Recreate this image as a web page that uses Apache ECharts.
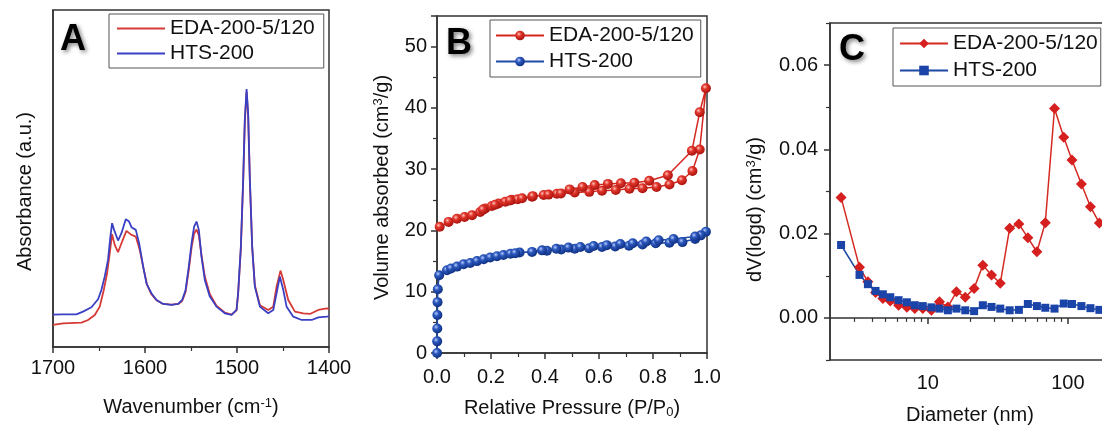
<!DOCTYPE html>
<html><head><meta charset="utf-8">
<script src="https://cdn.jsdelivr.net/npm/echarts@6/dist/echarts.min.js"></script>
<style>html,body{margin:0;padding:0;overflow:hidden;background:#fff;width:1102px;height:425px}#c{position:absolute;left:0;top:0;width:1200px;height:425px}</style>
</head><body><div id="c"></div>
<script>
// ---------- Panel A: FTIR ----------
const aWaveHTS = [1700,1690,1674.6,1667.4,1658.2,1651,1647.4,1643.8,1640.2,1637.6,1635.8,1633.6,1629.3,1625.6,1620.9,1617.3,1614.7,1610,1606.4,1602,1600.2,1598.4,1596.6,1593,1587.5,1580.3,1571.2,1563.9,1559.6,1555.9,1552.4,1549.4,1546.6,1544,1541.5,1538.6,1535,1529.5,1522.3,1513.2,1505.9,1500.5,1498.8,1495.8,1493.3,1491.5,1489.6,1487.9,1486,1483.5,1480.6,1475.1,1466.1,1460.6,1457,1453.4,1449.7,1446.1,1438.8,1429.7,1418.8,1411.6,1402.5,1400];
const aHTS = [0.097,0.098,0.098,0.106,0.119,0.143,0.171,0.211,0.261,0.331,0.371,0.351,0.319,0.341,0.383,0.376,0.359,0.351,0.311,0.241,0.216,0.191,0.180,0.161,0.141,0.129,0.126,0.129,0.141,0.171,0.241,0.311,0.361,0.376,0.351,0.271,0.201,0.151,0.121,0.101,0.096,0.111,0.161,0.301,0.501,0.681,0.773,0.701,0.501,0.301,0.181,0.121,0.101,0.111,0.161,0.211,0.171,0.121,0.091,0.081,0.081,0.089,0.091,0.092];
const aWaveEDA = [1700,1689.1,1669.1,1661.9,1654.6,1649.2,1644.8,1641.2,1638.3,1635.8,1632.9,1629.3,1625.6,1620.2,1614.7,1610,1605.7,1601.3,1597.7,1593,1587.5,1580.3,1571.2,1563.9,1559.6,1555.9,1552.4,1549.4,1546.6,1544,1541.5,1538.6,1535,1529.5,1522.3,1513.2,1505.9,1500.5,1498.8,1495.8,1493.3,1491.5,1489.6,1487.9,1486,1483.5,1480.6,1475.1,1466.1,1460.6,1457,1452.7,1449.7,1444.3,1437,1428,1420.8,1411.6,1402.5,1400];
const aEDA = [0.066,0.071,0.073,0.081,0.096,0.121,0.171,0.221,0.281,0.338,0.306,0.284,0.311,0.348,0.336,0.331,0.291,0.231,0.186,0.158,0.140,0.129,0.127,0.129,0.138,0.165,0.231,0.298,0.340,0.352,0.335,0.275,0.211,0.158,0.124,0.103,0.097,0.110,0.158,0.295,0.495,0.675,0.765,0.695,0.495,0.300,0.185,0.125,0.111,0.121,0.181,0.229,0.201,0.141,0.106,0.101,0.099,0.111,0.116,0.115];

// ---------- Panel B: N2 isotherms (adsorption then desorption) ----------
const bEdaP = [0.010,0.043,0.074,0.102,0.130,0.160,0.179,0.203,0.228,0.253,0.277,0.299,0.352,0.395,0.444,0.510,0.564,0.611,0.662,0.713,0.761,0.813,0.861,0.907,0.946,0.973,0.996,
               0.973,0.944,0.855,0.786,0.731,0.681,0.633,0.584,0.539,0.491,0.459,0.413,0.355,0.315,0.270,0.215,0.170];
const bEdaV = [20.6,21.4,21.9,22.2,22.5,23.0,23.6,24.0,24.4,24.7,25.0,25.1,25.5,25.8,26.0,26.2,26.3,26.5,26.6,26.8,26.9,27.1,27.5,28.2,29.7,33.2,43.2,
               39.3,33.0,29.0,28.1,27.8,27.7,27.6,27.4,27.1,26.7,26.05,25.85,25.6,25.25,24.9,24.2,23.4];
const bHtsP = [0.0003,0.0006,0.001,0.0015,0.002,0.003,0.008,0.037,0.052,0.074,0.099,0.123,0.148,0.173,0.197,0.222,0.246,0.272,0.306,0.352,0.407,0.460,0.510,0.563,0.611,0.660,0.711,0.761,0.810,0.861,0.909,0.956,0.996,
               0.977,0.956,0.876,0.821,0.775,0.725,0.679,0.629,0.580,0.531,0.487,0.442,0.389,0.290];
const bHtsV = [0,1.9,4.0,6.2,8.3,10.4,12.7,13.5,13.8,14.1,14.5,14.7,15.0,15.3,15.6,15.8,16.0,16.2,16.4,16.5,16.7,16.9,17.0,17.1,17.3,17.4,17.5,17.7,17.9,18.0,18.1,18.6,19.8,
               19.2,19.0,18.6,18.4,18.2,17.9,17.8,17.6,17.45,17.3,17.2,17.0,16.75,16.3];

// ---------- Panel C: pore size distribution ----------
const cDiam = [2.40,3.25,3.73,4.23,4.77,5.39,6.18,7.08,8.07,9.2,10.6,12.1,13.9,16.0,18.5,21.4,24.7,28.5,32.9,38.4,44.7,51.8,60.1,69,80.3,93.5,107,125,145,168];
const cEDA = [0.0286,0.0120,0.0086,0.0060,0.0046,0.0040,0.0030,0.0025,0.0022,0.0022,0.0018,0.0038,0.0026,0.0062,0.0049,0.0070,0.0125,0.0102,0.0082,0.0213,0.0223,0.0190,0.0157,0.0226,0.0497,0.0429,0.0375,0.0318,0.0264,0.0225];
const cHTS = [0.0173,0.0102,0.0080,0.0064,0.0056,0.0049,0.0042,0.0037,0.0030,0.0028,0.0025,0.0022,0.0018,0.0022,0.0018,0.0016,0.0030,0.0026,0.0022,0.0018,0.0019,0.0033,0.0028,0.0024,0.0022,0.0034,0.0033,0.0028,0.0023,0.0019];

const cYLabels = [0, 0.02, 0.04, 0.06];
const cYMinor = [-0.01, 0.01, 0.03, 0.05, 0.07];
const cXMinor = [3,4,5,6,7,8,9,20,30,40,50,60,70,80,90];

const names = {eda: 'EDA-200-5/120', hts: 'HTS-200'};

const zip = (xs, ys) => xs.map((x, i) => [x, ys[i]]);
const FONT = "'Liberation Sans', Arial, sans-serif";
const AX = '#333';
const TXT = '#111';
const sup = {fontSize: 13, verticalAlign: 'top', fontFamily: FONT, color: TXT};
const sub = {fontSize: 13, verticalAlign: 'bottom', fontFamily: FONT, color: TXT, padding: [8, 0, 0, 0]};

function sphere(hi, mid, dark) {
  return {type: 'radial', x: 0.38, y: 0.35, r: 0.7, colorStops: [{offset: 0, color: hi}, {offset: 0.35, color: mid}, {offset: 1, color: dark}]};
}
const axisLine = {show: true, lineStyle: {color: AX, width: 1.5}};
const tick = {show: true, inside: false, length: 6, lineStyle: {color: AX, width: 1.5}};
const minor = {show: true, splitNumber: 2, length: 4, lineStyle: {color: AX, width: 1.2}};
const lab = (m) => ({fontSize: 20, color: TXT, fontFamily: FONT, margin: m});
const nameStyle = (pad) => ({fontSize: 20, color: TXT, fontFamily: FONT, padding: pad || 0, rich: {sup, sub}});

const legendBase = {
  orient: 'vertical', itemWidth: 48, itemHeight: 12, borderColor: '#555', borderWidth: 1,
  textStyle: {fontSize: 21, color: TXT, fontFamily: FONT},
  formatter: n => n.slice(2), selectedMode: false
};
const shadow = {textShadowColor: 'rgba(0,0,0,0.5)', textShadowBlur: 4, textShadowOffsetX: 2, textShadowOffsetY: 2};
const panelLabel = (t, x, y) => ({type: 'text', left: x, top: y, z: 100,
  style: Object.assign({text: t, fontSize: 36, fontWeight: 'bold', fontFamily: FONT, fill: '#000'}, shadow)});

const option = {
  animation: false,
  backgroundColor: '#fff',
  textStyle: {fontFamily: FONT},
  grid: [
    {left: 53, top: 10, width: 276, height: 337, show: true, borderColor: AX, borderWidth: 1.5, outerBoundsMode: 'none'},
    {left: 437, top: 16, width: 270, height: 337, show: true, borderColor: AX, borderWidth: 1.5, outerBoundsMode: 'none'},
    {left: 830, top: 23, width: 280, height: 337, show: true, borderColor: AX, borderWidth: 1.5, outerBoundsMode: 'none'}
  ],
  xAxis: [
    {gridIndex: 0, type: 'value', min: 1400, max: 1700, interval: 100, inverse: true,
     axisLine, axisTick: tick, minorTick: minor, splitLine: {show: false},
     axisLabel: Object.assign(lab(11), {formatter: v => String(v)}),
     name: 'Wavenumber (cm{sup|-1})', nameLocation: 'middle', nameGap: 50, nameMoveOverlap: false, nameTextStyle: nameStyle()},
    {gridIndex: 1, type: 'value', min: 0, max: 1, interval: 0.2,
     axisLine, axisTick: tick, minorTick: minor, splitLine: {show: false},
     axisLabel: Object.assign(lab(14), {formatter: v => v.toFixed(1)}),
     name: 'Relative Pressure (P/P{sub|0})', nameLocation: 'middle', nameGap: 45, nameMoveOverlap: false, nameTextStyle: nameStyle()},
    {gridIndex: 2, type: 'log', logBase: 10, min: 2, max: 200,
     axisLine, axisTick: tick, splitLine: {show: false},
     axisLabel: Object.assign(lab(13), {showMinLabel: false, showMaxLabel: false}),
     name: 'Diameter (nm)', nameLocation: 'middle', nameGap: 45, nameMoveOverlap: false, nameTextStyle: nameStyle()},
    {gridIndex: 2, type: 'log', logBase: 10, min: 2, max: 200, position: 'bottom',
     axisLine: {show: false}, splitLine: {show: false}, axisLabel: {show: false},
     axisTick: {show: true, length: 4, customValues: cXMinor, lineStyle: {color: AX, width: 1.2}}}
  ],
  yAxis: [
    {gridIndex: 0, type: 'value', min: 0, max: 1.01, axisLine, axisTick: {show: false}, axisLabel: {show: false}, splitLine: {show: false},
     name: 'Absorbance (a.u.)', nameLocation: 'middle', nameGap: 18, nameMoveOverlap: false, nameTextStyle: nameStyle([0, 26, 0, 0])},
    {gridIndex: 1, type: 'value', min: 0, max: 55, interval: 10,
     axisLine, axisTick: tick, minorTick: minor, splitLine: {show: false},
     axisLabel: Object.assign(lab(10), {showMaxLabel: false}),
     name: 'Volume absorbed (cm{sup|3}/g)', nameLocation: 'middle', nameGap: 45, nameMoveOverlap: false, nameTextStyle: nameStyle([0, 6, 0, 0])},
    {gridIndex: 2, type: 'value', min: -0.01, max: 0.07, interval: 0.01,
     axisLine, splitLine: {show: false},
     axisTick: Object.assign({}, tick, {customValues: cYLabels}),
     axisLabel: Object.assign(lab(12), {customValues: cYLabels, formatter: v => v.toFixed(2)}),
     name: 'dV(logd) (cm{sup|3}/g)', nameLocation: 'middle', nameGap: 65, nameMoveOverlap: false, nameTextStyle: nameStyle([0, 36, 0, 0])},
    {gridIndex: 2, type: 'value', min: -0.01, max: 0.07, interval: 0.01, position: 'left',
     axisLine: {show: false}, splitLine: {show: false}, axisLabel: {show: false},
     axisTick: {show: true, length: 4, customValues: cYMinor, lineStyle: {color: AX, width: 1.2}}}
  ],
  legend: [
    Object.assign({}, legendBase, {left: 109, top: 14, padding: [4, 9, 4, 8], itemGap: 4, icon: 'rect', itemHeight: 2,
      data: ['A:' + names.eda, 'A:' + names.hts]}),
    Object.assign({}, legendBase, {left: 490, top: 20, padding: [5, 7, 5, 5], itemGap: 5, data: ['B:' + names.eda, 'B:' + names.hts]}),
    Object.assign({}, legendBase, {left: 893, top: 28, padding: [5, 3, 5, 6], itemGap: 6, data: ['C:' + names.eda, 'C:' + names.hts]})
  ],
  graphic: [panelLabel('A', 60, 22), panelLabel('B', 446, 26), panelLabel('C', 839, 32)],
  series: [
    {name: 'A:' + names.eda, type: 'line', xAxisIndex: 0, yAxisIndex: 0, symbol: 'none', data: zip(aWaveEDA, aEDA),
     lineStyle: {color: '#d63a36', width: 1.8}, itemStyle: {color: '#d63a36'}},
    {name: 'A:' + names.hts, type: 'line', xAxisIndex: 0, yAxisIndex: 0, symbol: 'none', data: zip(aWaveHTS, aHTS),
     lineStyle: {color: '#3a40c4', width: 1.8}, itemStyle: {color: '#3a40c4'}},
    {name: 'B:' + names.eda, type: 'line', xAxisIndex: 1, yAxisIndex: 1, symbol: 'circle', symbolSize: 10, data: zip(bEdaP, bEdaV),
     lineStyle: {color: '#d3261e', width: 1.5}, itemStyle: {color: sphere('#ffc0b8', '#e0352b', '#a3100a')}},
    {name: 'B:' + names.hts, type: 'line', xAxisIndex: 1, yAxisIndex: 1, symbol: 'circle', symbolSize: 10, data: zip(bHtsP, bHtsV),
     lineStyle: {color: '#1f4aa6', width: 1.5}, itemStyle: {color: sphere('#b8ccff', '#2c58bd', '#0c2c7c')}},
    {name: 'C:' + names.eda, type: 'line', xAxisIndex: 2, yAxisIndex: 2, symbol: 'diamond', symbolSize: 11, data: zip(cDiam, cEDA),
     lineStyle: {color: '#d42a22', width: 1.5}, itemStyle: {color: '#d61f1f'}},
    {name: 'C:' + names.hts, type: 'line', xAxisIndex: 2, yAxisIndex: 2, symbol: 'rect', symbolSize: 8, data: zip(cDiam, cHTS),
     lineStyle: {color: '#1c47a3', width: 1.5}, itemStyle: {color: '#1a44a8'}}
  ]
};
const chart = echarts.init(document.getElementById('c'), null, {renderer: 'canvas'});
chart.setOption(option);
</script></body></html>
